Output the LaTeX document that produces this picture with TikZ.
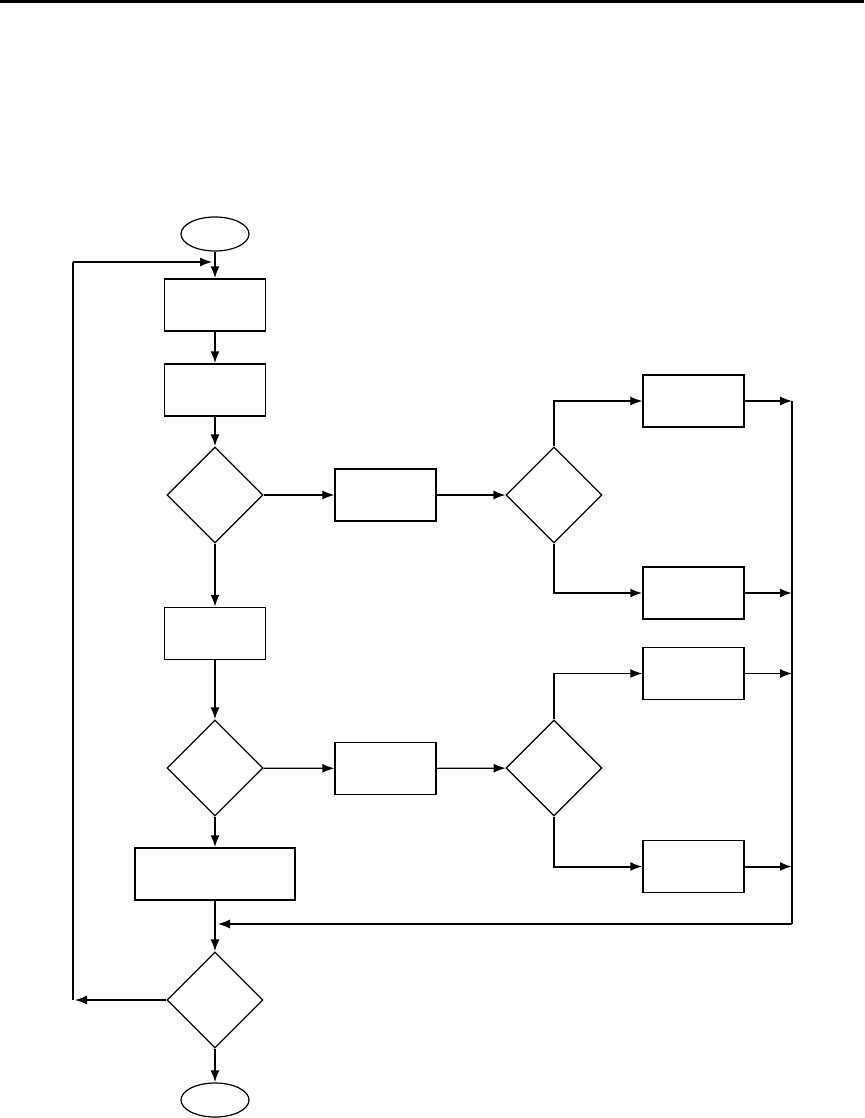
\documentclass[tikz,border=0pt]{standalone}
\usetikzlibrary{shapes.geometric,arrows.meta}
\begin{document}
\begin{tikzpicture}[x=0.5pt,y=-0.5pt,
  box/.style={draw,line width=0.7pt,minimum width=50.5pt,minimum height=26pt,inner sep=0pt},
  widebox/.style={box,minimum width=80pt},
  test/.style={draw,diamond,line width=0.6pt,minimum width=48pt,minimum height=48pt,inner sep=0pt},
  term/.style={draw,ellipse,line width=0.6pt,minimum width=34pt,minimum height=17pt,inner sep=0pt},
  flow/.style={-{Latex[length=6pt,width=4.5pt]},line width=1pt},
  side/.style={-{Latex[length=6pt,width=4.5pt]},line width=0.6pt}]
  \useasboundingbox (0,0) rectangle (864,1118);
  \fill (0,0) rectangle (864,3.5);
  % main column
  \node[term] (start) at (215,234) {};
  \node[box] (read) at (215,305) {};
  \node[box] (prep) at (215,390) {};
  \node[test] (testA) at (215,495) {};
  \node[box] (next) at (215,633.5) {};
  \node[test] (testC) at (215,768) {};
  \node[widebox] (update) at (215,874) {};
  \node[test] (testE) at (215,1000) {};
  \node[term] (stop) at (215,1100) {};
  % upper branch
  \node[box] (caseA) at (385.5,495) {};
  \node[test] (testB) at (554,495) {};
  \node[box] (outA1) at (693.5,401) {};
  \node[box] (outA2) at (693.5,593) {};
  % lower branch
  \node[box] (caseC) at (385.5,768.5) {};
  \node[test] (testD) at (554,768) {};
  \node[box] (outD1) at (693.5,673.5) {};
  \node[box] (outD2) at (693.5,866.5) {};
  \coordinate (busT) at (792,401);
  \coordinate (busB) at (792,924);
  \coordinate (loopB) at (73,1000);
  \coordinate (loopT) at (73,262);

  \draw[flow] (start) -- (read);
  \draw[flow] (read) -- (prep);
  \draw[flow] (prep) -- (testA);
  \draw[flow] (testA) -- (next);
  \draw[flow] (next) -- (testC);
  \draw[flow] (testC) -- (update);
  \draw[flow] (update) -- (testE);
  \draw[flow] (testE) -- (stop);

  \draw[side] (testA) -- (caseA);
  \draw[side] (caseA) -- (testB);
  \draw[side] (testB.north) |- (outA1);
  \draw[flow] (testB.south) |- (outA2);
  \draw[side] (outA1) -- (outA1 -| busT);
  \draw[flow] (outA2) -- (outA2 -| busT);

  \draw[side] (testC) -- (caseC);
  \draw[side] (caseC) -- (testD);
  \draw[side] (testD.north) |- (outD1);
  \draw[flow] (testD.south) |- (outD2);
  \draw[side] (outD1) -- (outD1 -| busT);
  \draw[flow] (outD2) -- (outD2 -| busT);

  \draw[line width=1pt] (busT) -- (busB);
  \draw[side,shorten >=1.5pt] (busB) -- (busB -| update.south);

  \draw[side,shorten >=1pt] (testE) -- (loopB);
  \draw[line width=0.7pt] (loopB) -- (loopT);
  \draw[side,shorten >=1.5pt] (loopT) -- (loopT -| start);
\end{tikzpicture}
\end{document}
